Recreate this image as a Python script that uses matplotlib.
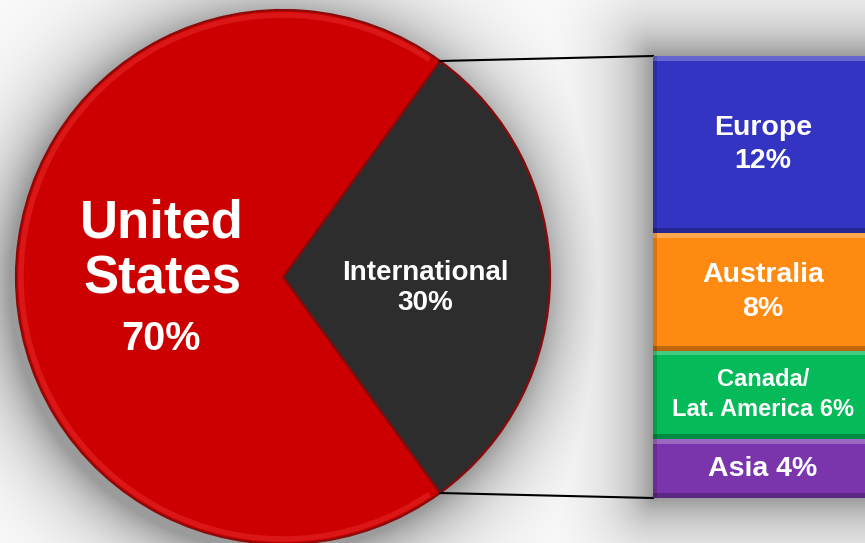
import numpy as np
import matplotlib
matplotlib.use("Agg")
import matplotlib.pyplot as plt
from matplotlib.patches import Rectangle, Arc

# ---- data ----
pie_labels = ["International\n30%", "United\nStates\n70%"]
pie_values = [30, 70]
pie_colors = ["#2D2D2D", "#CC0000"]

bar_labels = ["Asia 4%", "Canada/\nLat. America 6%", "Australia\n8%", "Europe\n12%"]
bar_values = [4, 6, 8, 12]
bar_colors = ["#7A35AC", "#05BA58", "#FF8A12", "#3434C2"]
bar_fontsizes = [20.5, 17, 20.5, 20.5]

W, H = 865, 543
plt.rcParams['font.family'] = ['Liberation Sans', 'DejaVu Sans']

fig = plt.figure(figsize=(W / 100, H / 100), dpi=100)

# layout constants (pixels, image coords: y down)
cx, cy, R = 283, 277, 267
bx0, bx1, by0, by1 = 653, 873, 56, 498

# ---- background with soft shadows ----
yy, xx = np.mgrid[0:H, 0:W] + 0.5
d_pie = np.hypot(xx - cx + 6, yy - cy - 8) - R
dx = np.maximum.reduce([bx0 - xx, np.zeros_like(xx), xx - bx1])
dy = np.maximum.reduce([by0 - yy, np.zeros_like(yy), yy - by1])
d_bar = np.hypot(dx, dy)
d = np.clip(np.minimum(d_pie, d_bar), 0, None)
shade = 0.99 - 0.38 * np.exp(-d / 36.0)
bg = np.dstack([shade, shade, shade])

ax = fig.add_axes([0, 0, 1, 1])
ax.imshow(bg, extent=(0, W, H, 0), zorder=0, interpolation="bilinear")

# ---- pie ----
intl_half = 360 * pie_values[0] / sum(pie_values) / 2
wedges, _ = ax.pie(pie_values, colors=pie_colors, startangle=-intl_half,
                   counterclock=True, center=(cx, cy), radius=R,
                   wedgeprops=dict(edgecolor="#8A0A0A", linewidth=1.6))
for w in wedges:
    w.set_zorder(2)
ax.set_xlim(0, W)
ax.set_ylim(H, 0)
ax.set_aspect("auto")
ax.axis("off")

# soft rim highlight on the red slice
ax.add_patch(Arc((cx, cy), 2 * (R - 5), 2 * (R - 5), theta1=intl_half + 2,
                 theta2=360 - intl_half - 2, color="#FF5050", lw=4, alpha=0.28,
                 zorder=3))

ax.text(162, 237, "United", ha="center", va="baseline", color="white",
        fontsize=38, fontweight="bold", zorder=5)
ax.text(162, 294, "States", ha="center", va="baseline", color="white",
        fontsize=38, fontweight="bold", zorder=5)
ax.text(161, 350, "70%", ha="center", va="baseline", color="white",
        fontsize=28.5, fontweight="bold", zorder=5)
intl_name, intl_pct = pie_labels[0].split("\n")
ax.text(425, 280, intl_name, ha="center", va="baseline", color="white",
        fontsize=20, fontweight="bold", zorder=5)
ax.text(425, 310, intl_pct, ha="center", va="baseline", color="white",
        fontsize=20, fontweight="bold", zorder=5)

# connector lines
a = np.deg2rad(intl_half)
px = cx + R * np.cos(a)
ax.plot([px, bx0], [cy - R * np.sin(a), by0], color="black", lw=1.5, zorder=3)
ax.plot([px, bx0], [cy + R * np.sin(a), by1], color="black", lw=1.5, zorder=3)

# ---- stacked bar ----
axb = fig.add_axes([bx0 / W, 1 - by1 / H, (bx1 - bx0) / W, (by1 - by0) / H])
bottoms = np.concatenate([[0], np.cumsum(bar_values)[:-1]])
axb.bar(0, bar_values, bottom=bottoms, width=1.0, color=bar_colors,
        edgecolor="none", align="center")
for b, v, c, lab, fs in zip(bottoms, bar_values, bar_colors, bar_labels, bar_fontsizes):
    # bevel: light top band, dark bottom band
    axb.add_patch(Rectangle((-0.5, b + v - 0.32), 1.0, 0.32, facecolor="white",
                            alpha=0.25, edgecolor="none"))
    axb.add_patch(Rectangle((-0.5, b), 1.0, 0.32, facecolor="black",
                            alpha=0.25, edgecolor="none"))
    axb.add_patch(Rectangle((-0.5, b), 0.02, v, facecolor="black",
                            alpha=0.15, edgecolor="none"))
    axb.text(0, b + v / 2, lab, ha="center", va="center", color="white",
             fontsize=fs, fontweight="bold", linespacing=1.38)
axb.set_xlim(-0.5, 0.5)
axb.set_ylim(0, sum(bar_values))
axb.axis("off")

fig.savefig("out.png", dpi=100)
